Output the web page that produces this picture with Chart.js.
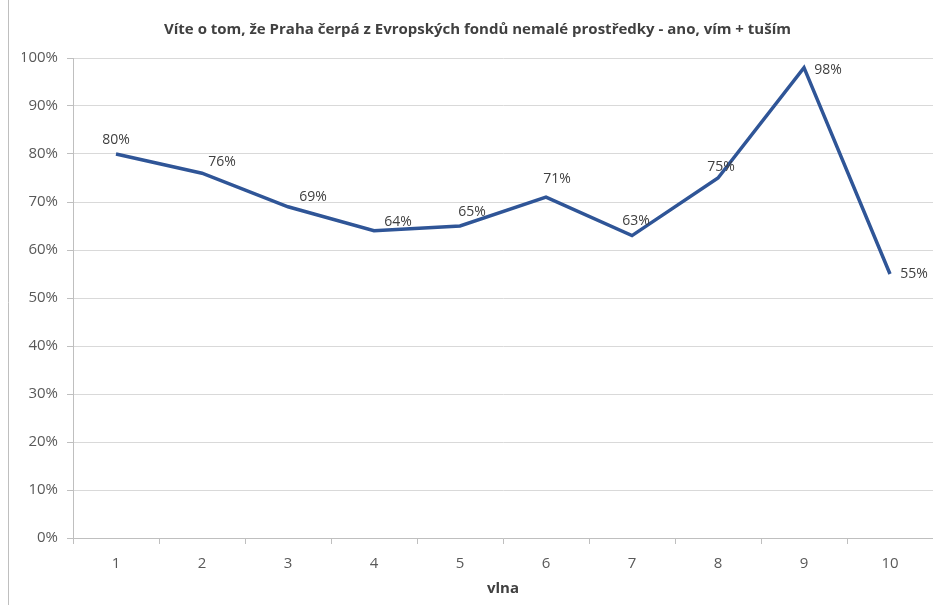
<!DOCTYPE html>
<html>
<head>
<meta charset="utf-8">
<script src="https://cdn.jsdelivr.net/npm/chart.js@4/dist/chart.umd.min.js"></script>
<style>
  html, body { margin: 0; padding: 0; background: #ffffff; }
  #wrap { width: 933px; height: 605px; position: relative; }
</style>
</head>
<body>
<div id="wrap"><canvas id="c" width="933" height="605"></canvas></div>
<script>
// Survey waves and share of respondents answering "ano, vím + tuším" (in %)
const waves = ['1', '2', '3', '4', '5', '6', '7', '8', '9', '10'];
const awareness = [80, 76, 69, 64, 65, 71, 63, 75, 98, 55];
const yTicks = [0, 10, 20, 30, 40, 50, 60, 70, 80, 90, 100];

const chartTitle = 'Víte o tom, že Praha čerpá z Evropských fondů nemalé prostředky - ano, vím + tuším';
const xTitle = 'vlna';

// Manual placement of each value label relative to its point (px)
const labelOffsets = [
  [0, -14], [20, -11], [25, -10], [24, -9], [12, -14],
  [11, -18], [4, -15], [3, -11], [24, 2], [24, 0]
];

const TEXT = '#595959';
const GRID = '#d9d9d9';
const AXIS = '#bfbfbf';
const LINE = '#2F5597';
const FONT = '"Open Sans", sans-serif';

// Value labels next to the line points
const valueLabels = {
  id: 'valueLabels',
  afterDatasetsDraw(chart) {
    const ctx = chart.ctx;
    const meta = chart.getDatasetMeta(0);
    ctx.save();
    ctx.font = '14px ' + FONT;
    ctx.fillStyle = '#404040';
    ctx.textAlign = 'center';
    ctx.textBaseline = 'middle';
    meta.data.forEach((pt, i) => {
      const off = labelOffsets[i];
      ctx.fillText(awareness[i] + '%', pt.x + off[0], pt.y + off[1]);
    });
    ctx.restore();
  }
};

// White background and thin outer frame line on the left edge
const frame = {
  id: 'frame',
  beforeDraw(chart) {
    const ctx = chart.ctx;
    ctx.save();
    ctx.fillStyle = '#ffffff';
    ctx.fillRect(0, 0, chart.width, chart.height);
    ctx.strokeStyle = AXIS;
    ctx.lineWidth = 1;
    ctx.beginPath();
    ctx.moveTo(8.5, 0);
    ctx.lineTo(8.5, chart.height);
    ctx.stroke();
    ctx.restore();
  }
};

new Chart(document.getElementById('c'), {
  type: 'line',
  data: {
    labels: waves,
    datasets: [{
      data: awareness,
      borderColor: LINE,
      backgroundColor: LINE,
      borderWidth: 3.5,
      pointRadius: 0,
      tension: 0,
      borderJoinStyle: 'miter',
      fill: false
    }]
  },
  options: {
    responsive: false,
    animation: false,
    layout: { padding: { left: 22, right: 0, top: 0, bottom: 0 } },
    plugins: {
      legend: { display: false },
      tooltip: { enabled: false },
      title: {
        display: true,
        text: chartTitle,
        color: '#404040',
        font: { family: FONT, size: 15, weight: 'bold' },
        padding: { top: 21, bottom: 19 }
      }
    },
    scales: {
      x: {
        offset: true,
        grid: {
          offset: true,
          drawOnChartArea: false,
          drawTicks: true,
          tickLength: 6,
          color: AXIS
        },
        border: { display: true, color: AXIS, width: 1 },
        ticks: {
          color: TEXT,
          padding: 11,
          font: { family: FONT, size: 15 },
          maxRotation: 0
        },
        title: {
          display: true,
          text: xTitle,
          color: '#404040',
          font: { family: FONT, size: 15, weight: 'bold' },
          padding: { top: 4, bottom: 7 }
        },
        afterFit(scale) { scale.height = 67; }
      },
      y: {
        min: 0,
        max: 100,
        afterBuildTicks(scale) { scale.ticks = yTicks.map(v => ({ value: v })); },
        grid: {
          color: GRID,
          drawTicks: true,
          tickLength: 6,
          tickColor: AXIS
        },
        border: { display: true, color: AXIS, width: 1 },
        ticks: {
          color: TEXT,
          padding: 9,
          font: { family: FONT, size: 15 },
          callback: v => v + '%'
        },
        afterFit(scale) { scale.width = 51; }
      }
    }
  },
  plugins: [frame, valueLabels]
});
</script>
</body>
</html>
